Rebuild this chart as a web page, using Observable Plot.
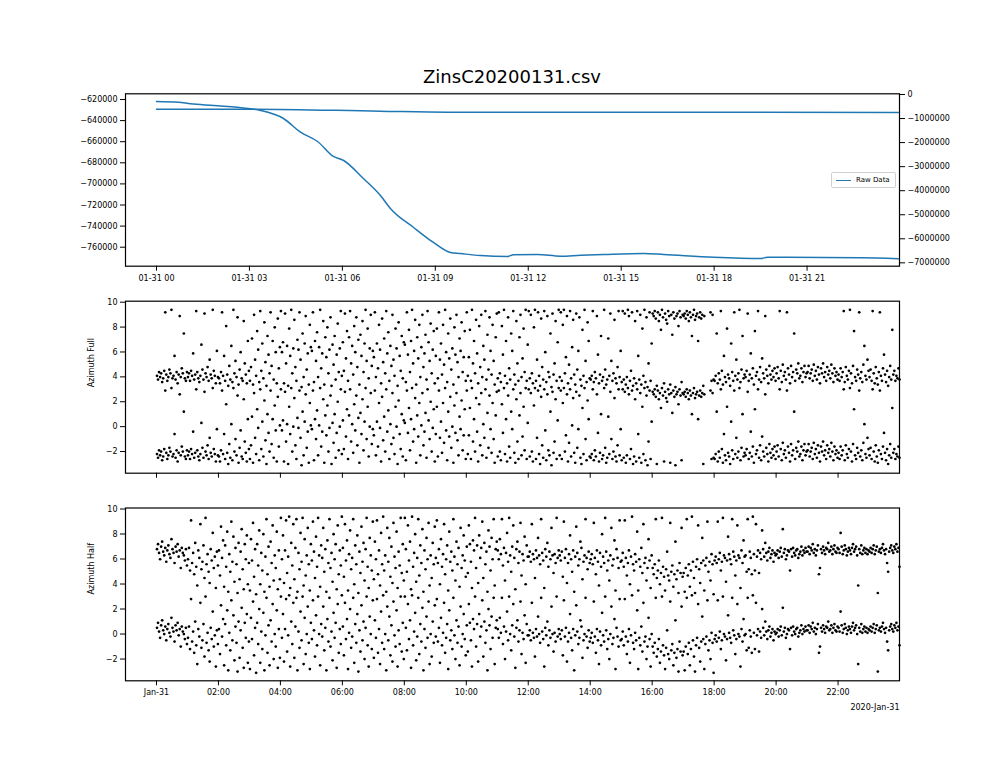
<!DOCTYPE html>
<html><head><meta charset="utf-8">
<script src="https://cdn.jsdelivr.net/npm/d3@7"></script>
<script src="https://cdn.jsdelivr.net/npm/@observablehq/plot@0.6"></script>
<style>
body{margin:0;background:#fff;}
#c{position:relative;width:1000px;height:778px;font-family:"DejaVu Sans",sans-serif;overflow:hidden;}
#c svg{position:absolute;left:0;top:0;}
#title{position:absolute;left:0;width:1024px;top:66px;text-align:center;font-size:18px;color:#000;}
#legend{position:absolute;left:831px;top:172px;width:63px;height:14px;border:1px solid #d0d0d0;border-radius:2px;background:rgba(255,255,255,0.8);font-size:7px;}
#legend .ln{position:absolute;left:4px;top:6.5px;width:15px;height:0;border-top:1.4px solid #1f77b4;}
#legend .tx{position:absolute;left:24px;top:2.5px;color:#000;}
</style></head>
<body><div id="c"><div id="title">ZinsC20200131.csv</div></div>
<script>
// ---- Top panel: raw data lines (times in hours after 2020-01-31 00:00) ----
const rawTimesA = [0,0.71,1.10,1.85,3.03,3.36,4.10,4.65,5.20,5.71,6.04,6.68,7.23,7.55,8.30,8.94,9.49,9.81,10.46,11.33,11.52,12.30,13.04,13.69,14.43,15.72,16.37,17.98,19.50,19.72,22.72,23.95];
const rawValuesA = [-621900,-622560,-624080,-625700,-628800,-630400,-638000,-651000,-659800,-674000,-677800,-694900,-711000,-723300,-741300,-755500,-765000,-766000,-767900,-768800,-767200,-766900,-768500,-767600,-766900,-766000,-766900,-769500,-770700,-769500,-770100,-771000];
const rawTimesB = [0,3.0,7.2,9.4,13.0,23.95];
const rawValuesB = [-611000,-611000,-694000,-736000,-736000,-748000];
const leftTicks = [-620000,-640000,-660000,-680000,-700000,-720000,-740000,-760000];
const rightTicks = [0,-1000000,-2000000,-3000000,-4000000,-5000000,-6000000,-7000000];
const topTickHours = [0,3,6,9,12,15,18,21];
const azTickHours = [0,2,4,6,8,10,12,14,16,18,20,22];
const azTicksY = [-2,0,2,4,6,8,10];

// ---- Azimuth Full: angle samples per hour (radians, 30 per hour; null = no sample) ----
const fullH00=[-2.2,-2.5,-1.9,-2.3,-2.0,-2.7,-2.4,-1.8,2.9,-2.1,-2.6,-2.3,-1.7,-2.0,3.1,-2.4,-2.2,-0.6,-2.5,-1.9,-2.8,-2.1,2.6,-2.3,-1.6,-2.0,1.2,-2.4,-2.6,-1.9];
const fullH01=[-2.3,-2.0,-2.6,-1.8,-2.2,-0.4,-2.5,-2.1,3.0,-1.9,-2.4,-2.7,-2.2,0.3,-1.7,-2.5,2.8,-2.0,-2.3,-1.5,-2.6,-0.9,-2.1,-2.4,3.1,-1.8,-2.2,-2.8,-0.2,-2.3];
const fullH02=[-2.4,-2.8,-1.9,2.9,-2.2,-0.6,-2.6,1.8,-2.1,-3.0,-1.4,-2.5,0.2,-2.7,3.1,-2.0,-1.0,-2.3,2.5,-2.9,-1.7,-0.3,-2.4,-2.6,2.2,-1.2,-2.1,-2.8,0.6,-1.8];
const fullH03=[-2.6,-1.5,0.8,-2.9,2.7,-0.9,-2.2,1.4,-0.1,-2.7,3.0,-1.8,0.4,-2.4,2.1,-1.1,-3.0,1.0,-0.5,-2.0,2.9,-1.4,0.6,-2.5,1.7,-0.3,-2.8,2.4,-1.6,0.1];
const fullH04=[3.0,-0.3,0.5,-2.8,2.8,-1.2,0.2,-3.0,1.6,-0.6,3.1,-2.0,0.0,2.3,-1.5,-2.6,0.7,-0.1,2.9,-0.9,-3.1,1.2,-2.3,0.4,2.6,-1.7,-0.4,-2.9,1.9,0.1];
const fullH05=[-0.2,2.9,-2.7,0.6,-1.0,1.3,-2.3,0.1,3.1,-1.6,-0.4,2.2,-2.9,0.9,-0.7,1.7,-2.0,-0.1,2.5,-3.0,0.3,-1.3,1.0,-2.5,-0.5,2.0,-1.9,0.0,3.0,-2.2];
const fullH06=[0.5,-1.8,2.8,-0.8,1.4,-2.6,0.9,3.0,-1.2,0.2,-2.1,1.8,-0.3,2.5,-1.5,0.7,-2.9,1.1,-0.6,2.2,-1.9,0.4,3.1,-1.0,1.6,-2.4,0.0,2.7,-1.4,-0.2];
const fullH07=[-0.7,2.9,-2.3,0.4,-1.6,1.9,-0.1,-2.8,2.4,-1.1,0.8,-2.0,3.0,-0.4,1.3,-2.6,0.2,-1.4,2.7,-0.9,-2.2,1.6,0.0,-3.0,2.1,-0.6,-1.8,1.0,-2.4,0.5];
const fullH08=[0.3,-2.7,2.9,-0.5,1.5,-1.9,0.6,3.1,-1.2,-0.2,2.3,-2.9,0.9,-0.8,1.9,-2.3,0.1,2.7,-1.5,-0.4,1.1,-2.5,3.0,0.5,-1.0,2.0,-2.0,-0.1,1.4,-2.8];
const fullH09=[-0.6,1.6,-2.4,2.9,-0.9,0.4,-2.1,1.9,-1.3,3.1,-0.3,-2.7,1.2,-0.8,2.4,-1.7,0.0,-2.9,1.7,-0.5,2.7,-1.1,-2.3,0.8,-0.2,2.1,-1.9,-0.7,1.4,-2.6];
const fullH10=[2.9,-2.2,-0.7,1.5,-2.6,3.1,-1.2,0.6,-2.0,2.3,-0.4,-2.8,1.8,-1.5,2.7,-2.3,0.2,-0.9,3.0,-2.5,1.1,-1.7,2.5,-0.2,-2.1,1.9,-1.0,-2.9,0.9,2.8];
const fullH11=[-2.4,2.9,-2.0,-2.7,1.8,-0.5,3.1,-2.2,0.6,-2.8,2.5,-1.6,-2.5,1.2,-0.2,3.0,-2.1,-2.9,2.2,-1.2,-2.6,0.9,2.7,-2.3,-0.8,1.6,-1.9,3.1,-2.6,0.3];
const fullH12=[3.0,-2.4,2.7,-2.0,-2.8,1.7,3.1,-2.6,-0.9,2.9,-2.2,-3.0,2.4,-1.5,-2.5,3.0,-0.3,-2.7,2.6,-1.9,-2.3,1.2,-3.1,2.8,-2.1,-1.2,2.2,-2.6,0.5,3.1];
const fullH13=[-2.3,2.9,-2.6,1.9,3.1,-2.0,-0.7,2.6,-2.8,-1.3,3.0,-2.4,0.1,2.3,-2.1,-2.9,2.8,-1.7,-0.2,2.5,-2.5,-3.0,1.5,-2.2,3.1,-1.0,-2.7,2.1,0.6,-2.4];
const fullH14=[-2.5,-2.2,3.0,-2.7,-1.9,-2.4,2.6,-0.5,-2.8,-2.1,1.0,-2.6,-2.3,3.1,-1.7,-2.9,-2.5,0.8,-2.2,2.8,-1.0,-2.6,-2.0,2.3,-2.4,-2.8,-1.5,3.0,-2.3,-0.2];
const fullH15=[-2.7,3.0,-2.5,2.8,-2.9,-2.3,3.1,2.6,-2.6,-1.8,2.9,-3.0,-2.4,2.2,-2.8,3.0,-0.6,-2.5,2.7,-2.9,1.6,-2.2,3.1,-2.7,2.5,-3.1,-1.2,2.9,-2.6,0.4];
const fullH16=[2.8,2.6,3.0,2.4,-3.0,2.9,2.2,2.7,1.5,3.1,2.5,-2.8,2.8,2.3,2.0,3.0,2.6,-2.9,2.7,1.1,2.9,2.4,-3.1,2.6,2.8,1.8,3.0,2.5,-2.7,2.7];
const fullH17=[2.6,2.8,2.4,3.0,2.7,2.2,2.9,2.5,1.0,2.7,3.1,2.3,2.6,2.8,0.6,2.5,2.9,2.4,2.7,-3.0,2.6,null,null,null,null,null,2.9,-2.6,2.7,-2.5];
const fullH18=[-2.6,-2.2,1.2,-2.8,-2.0,-2.5,3.0,-1.8,-2.9,-0.6,-2.3,-2.7,1.6,-2.1,-2.4,-3.0,0.4,-1.9,-2.6,2.9,-2.2,-0.9,-2.5,-2.0,3.1,-2.7,-1.7,1.0,-2.4,-2.1];
const fullH19=[-2.3,-1.8,2.8,-2.6,-2.1,-0.4,-2.4,-1.6,-2.9,1.4,-2.2,-1.9,3.0,-2.5,-1.5,-2.7,-0.8,-2.0,-2.4,2.6,-1.7,-2.2,-2.8,-1.4,-2.1,-2.5,-1.8,-2.3,-1.6,-2.6];
const fullH20=[-2.0,-1.5,-2.4,3.0,-1.8,-2.7,-1.3,-2.2,-1.9,-2.5,2.9,-1.6,-2.1,-2.8,-1.4,-2.3,-1.9,1.2,-2.6,-1.7,-2.0,-1.2,-2.4,-2.2,-1.6,-2.7,-1.9,-1.4,-2.3,-2.0];
const fullH21=[-1.9,-1.4,-2.4,-2.0,-1.7,-2.6,-1.3,-2.2,-1.8,-2.5,-1.5,-2.1,-2.8,-1.6,-2.0,-1.2,-2.3,-1.9,-2.6,-1.5,-2.1,-1.8,-2.4,-1.3,-2.0,-2.7,-1.6,-2.2,-1.9,-2.5];
const fullH22=[-2.1,-2.6,-1.6,-2.3,-1.9,3.0,-2.7,-1.5,-2.2,-2.5,-1.8,3.1,-2.0,-2.8,-1.4,1.4,-2.3,-2.6,-1.7,-2.1,2.9,-2.4,-1.9,-2.7,-1.3,0.2,-2.2,-2.5,-0.9,-1.8];
const fullH23=[-2.3,-1.7,-2.6,3.0,-2.0,-2.8,-1.5,-2.4,-2.9,-1.9,2.9,-2.2,-2.6,-1.6,-0.5,-2.1,-2.7,-1.8,-3.0,-2.3,-1.4,-2.5,1.5,-2.1,-1.8,-2.6,-2.2,-2.4,-1.6,-2.5];

// ---- Azimuth Half: angle samples per hour (radians, 30 per hour) ----
const halfH00=[0.5,0.9,0.2,-0.3,0.7,1.1,0.3,0.0,0.6,-0.5,0.4,0.8,0.1,-0.2,1.3,0.5,0.2,-0.6,0.7,0.3,0.9,-0.1,0.4,-1.0,0.6,0.2,0.0,-0.4,0.5,-0.8];
const halfH01=[-0.3,0.6,-1.2,2.8,-0.6,0.2,-1.5,1.0,-0.9,-2.4,0.4,-0.2,2.5,-1.1,-0.5,0.8,-1.8,3.0,-0.7,0.1,-1.3,-2.2,0.5,-0.4,1.8,-1.0,-0.1,-2.6,0.3,-0.8];
const halfH02=[0.4,-1.6,2.3,-0.2,1.2,-2.5,0.8,-0.9,1.9,-2.9,0.1,-1.3,2.7,-0.5,1.5,-2.1,0.6,-0.7,-3.0,1.0,-1.9,0.3,2.1,-1.1,-2.7,0.9,-0.3,1.6,-2.3,-0.6];
const halfH03=[-2.8,1.3,-0.4,2.6,-1.7,0.5,-3.1,0.9,-0.8,2.0,-2.3,0.2,-1.2,1.7,-2.9,-0.1,2.9,-1.5,0.7,-2.5,1.1,-0.6,2.4,-2.0,0.0,-1.0,1.9,-2.7,0.4,-1.9];
const halfH04=[3.0,-0.3,1.6,-2.2,0.4,2.8,-1.4,-0.1,3.1,-2.6,1.0,-0.8,2.5,-1.9,0.6,2.9,-2.9,0.2,-1.1,1.8,-0.5,3.0,-2.4,1.3,-1.6,0.0,2.2,-0.7,-2.8,0.9];
const halfH05=[-0.4,2.7,0.3,-1.8,1.5,-0.9,3.0,0.0,-2.5,0.8,-0.2,2.2,-1.3,0.5,-2.9,1.2,-0.6,2.9,-1.0,0.2,-2.1,1.7,-0.3,0.9,-2.7,2.4,-1.5,0.4,-0.8,3.1];
const halfH06=[0.6,-1.7,2.5,-0.4,1.2,-2.8,0.1,2.0,-1.1,-0.2,2.9,-2.3,0.8,-0.7,1.6,-3.0,0.3,-1.4,2.3,-0.5,1.0,-2.0,0.5,3.0,-0.9,-2.6,1.4,0.0,-1.2,2.7];
const halfH07=[-1.9,1.1,-0.3,2.8,-1.5,0.4,-2.4,1.8,-0.7,3.1,-1.2,0.0,-2.9,2.2,-0.5,1.4,-1.7,0.7,-2.2,2.6,-0.1,-1.0,1.9,-2.6,0.3,-0.8,3.0,-1.4,0.9,-2.0];
const halfH08=[3.0,0.5,-1.3,2.4,-0.4,1.1,-2.7,3.1,-0.9,0.2,1.7,-2.1,-0.2,2.9,-1.6,0.8,-0.6,2.1,-2.9,0.4,-1.1,1.4,-0.3,2.6,-2.4,0.0,-1.8,1.0,-0.7,2.3];
const halfH09=[-0.2,2.8,-0.6,0.5,-2.3,1.3,-0.9,0.1,2.5,-1.5,-0.3,0.8,-2.8,1.9,-0.5,0.3,-1.2,2.9,-0.1,-2.0,1.1,-0.7,0.6,-2.5,2.2,-1.0,0.0,1.6,-0.4,-1.7];
const halfH10=[0.7,-1.4,2.4,0.9,-0.5,-2.6,1.2,0.4,3.0,-1.0,0.8,-2.2,1.6,-0.2,0.6,2.7,-1.8,1.0,-0.7,0.3,-2.9,2.0,0.7,-1.2,1.4,-0.3,2.9,-2.4,0.5,1.1];
const halfH11=[0.4,-0.3,1.3,0.1,2.9,-0.8,0.6,-2.0,0.2,1.8,-0.5,3.0,0.0,-1.3,0.7,2.4,-0.2,-2.7,0.5,1.1,-0.6,0.3,2.6,-1.6,0.1,-0.4,1.5,-2.3,0.8,-0.1];
const halfH12=[-0.1,0.3,-0.5,2.5,0.1,-0.3,-1.8,0.4,-0.2,1.4,0.0,-0.7,2.9,0.2,-0.4,-2.6,0.5,-0.1,1.0,-0.9,0.3,-0.3,2.2,0.0,-1.4,0.1,-0.6,3.0,-0.2,0.4];
const halfH13=[0.0,-0.4,0.3,-1.7,2.7,-0.2,0.5,-2.2,-0.6,0.1,1.6,-0.3,-1.3,0.4,-2.9,-0.1,2.3,0.2,-0.8,-0.3,1.1,0.6,-1.9,-0.5,0.0,2.9,-0.2,-1.1,0.3,-0.6];
const halfH14=[-0.3,0.1,-0.7,2.6,-0.2,-1.5,0.4,-0.5,-2.4,0.2,-0.9,1.7,-0.1,-0.6,3.0,0.3,-1.2,-0.4,-2.0,0.0,2.2,-0.8,-0.3,1.2,-2.8,0.5,-0.2,-1.0,2.8,-0.5];
const halfH15=[-0.4,0.2,-0.9,2.8,-0.2,-1.6,-0.6,0.4,-2.3,-0.1,3.1,-0.7,-1.2,0.1,-0.5,1.9,-2.8,-0.3,-0.9,0.6,-1.4,2.5,-0.6,-0.2,-2.0,-1.0,1.3,-0.4,-2.6,0.0];
const halfH16=[-1.0,-1.5,-0.7,2.9,-1.8,-1.2,-0.4,-2.3,-1.4,3.0,-0.9,-1.7,-2.8,-1.1,0.3,-1.6,-2.0,2.6,-1.3,-0.8,-2.5,-1.5,1.1,-1.9,-1.2,-3.0,-0.6,-1.4,2.2,-1.7];
const halfH17=[-1.4,-2.9,-1.0,2.9,-1.6,-0.7,-2.5,-1.2,3.1,-0.5,-1.8,-3.0,-0.9,-0.3,2.4,-1.1,-2.2,-0.6,1.4,-0.4,-2.8,-0.8,-0.2,2.7,-1.3,-0.5,-2.0,0.1,-0.7,-3.1];
const halfH18=[-0.4,-0.1,-0.6,2.7,-0.3,0.2,-1.2,-0.5,3.0,0.0,-0.2,-2.1,-0.4,1.5,0.1,-0.3,-0.7,2.9,0.3,-0.1,-1.6,-0.4,2.4,0.0,-0.2,-2.6,0.4,-0.6,1.2,-0.1];
const halfH19=[0.0,-1.3,2.9,-1.1,0.3,-0.2,-1.5,3.1,0.1,-1.2,2.5,-0.1,0.4,-1.4,0.2,-0.3,2.0,0.5,-0.1,1.0,0.2,-0.4,0.3,0.6,-0.2,0.1,0.4,-0.5,0.2,0.0];
const halfH20=[0.1,0.4,-0.2,0.3,0.6,-0.1,2.1,0.2,0.5,-0.3,0.0,0.4,0.3,-1.2,0.5,-0.1,0.6,0.2,0.0,0.4,0.5,-0.2,0.1,0.3,0.7,0.0,0.4,0.2,0.6,0.3];
const halfH21=[0.3,0.7,0.1,0.6,0.4,0.9,0.2,0.5,0.0,0.4,0.8,-1.5,-1.0,0.5,0.2,0.7,0.4,0.1,0.6,0.5,1.0,0.3,0.4,0.7,0.1,0.5,0.8,0.3,0.2,0.6];
const halfH22=[0.5,0.2,1.8,0.7,0.1,0.4,0.8,0.5,0.0,0.3,0.6,0.4,0.1,0.6,0.9,0.3,0.5,0.7,0.0,-2.4,0.5,0.2,0.8,0.1,0.4,0.6,0.2,0.5,0.1,0.4];
const halfH23=[0.3,0.6,0.2,0.5,0.8,0.1,0.4,0.7,-3.0,0.3,0.5,0.2,0.6,0.9,0.4,0.1,0.5,-0.6,-1.3,0.3,0.6,0.8,0.4,0.2,0.7,0.5,0.9,0.3,0.6,-0.9];

const fullHours=[fullH00,fullH01,fullH02,fullH03,fullH04,fullH05,fullH06,fullH07,fullH08,fullH09,fullH10,fullH11,fullH12,fullH13,fullH14,fullH15,fullH16,fullH17,fullH18,fullH19,fullH20,fullH21,fullH22,fullH23];
const halfHours=[halfH00,halfH01,halfH02,halfH03,halfH04,halfH05,halfH06,halfH07,halfH08,halfH09,halfH10,halfH11,halfH12,halfH13,halfH14,halfH15,halfH16,halfH17,halfH18,halfH19,halfH20,halfH21,halfH22,halfH23];

// ---- build tables ----
const T0 = Date.UTC(2020,0,31,0,0);
const hr = h => new Date(T0 + h*3600000);
const lineA = rawTimesA.map((h,i)=>({t:hr(h), v:rawValuesA[i]}));
const lineB = rawTimesB.map((h,i)=>({t:hr(h), v:rawValuesB[i]}));
function scatter(hours){
  const out=[];
  hours.forEach((arr,h)=>arr.forEach((v,i)=>{
    if(v==null) return;
    const t=hr(h+(i+0.5)/arr.length);
    out.push({t,v}); out.push({t,v:v+2*Math.PI});
  }));
  return out;
}
const fullData=scatter(fullHours), halfData=scatter(halfHours);

const W=1000,H=778, L=125, R=101;
const xDomain=[new Date(Date.UTC(2020,0,30,23,0)), new Date(Date.UTC(2020,0,31,23,59))];
const fmtInt=d3.format("d");
const base={width:W,height:H,marginLeft:L,marginRight:R,style:{background:"transparent",fontSize:"8px",fontFamily:"DejaVu Sans",color:"#000",overflow:"visible"}};
const azY={domain:[-3.74,10.08],label:null};
const c=document.getElementById("c");

// top panel, left axis
c.appendChild(Plot.plot({...base, marginTop:93.3, marginBottom:H-265.7,
  x:{type:"utc",domain:xDomain,label:null}, y:{domain:[-778000,-614600],label:null},
  marks:[
    Plot.line(lineA,{x:"t",y:"v",stroke:"#1f77b4",strokeWidth:1.5,curve:"monotone-x"}),
    Plot.axisX({ticks:topTickHours.map(hr),tickFormat:d3.utcFormat("%m-%d %H"),tickSize:5,tickPadding:4,label:null}),
    Plot.axisY({ticks:leftTicks,tickFormat:fmtInt,tickSize:5,tickPadding:3,label:null}),
    Plot.frame({stroke:"#000",strokeWidth:1.2})
  ]}));
// top panel, right axis
c.appendChild(Plot.plot({...base, marginTop:93.3, marginBottom:H-265.7,
  x:{type:"utc",domain:xDomain,label:null,axis:null}, y:{domain:[-7140000,29000],label:null},
  marks:[
    Plot.line(lineB,{x:"t",y:"v",stroke:"#1f77b4",strokeWidth:1.5,curve:"monotone-x"}),
    Plot.axisY({anchor:"right",ticks:rightTicks,tickFormat:fmtInt,tickSize:5,tickPadding:3,label:null})
  ]}));
// middle panel
c.appendChild(Plot.plot({...base, marginTop:300.7, marginBottom:H-472.7,
  x:{type:"utc",domain:xDomain,label:null}, y:azY,
  marks:[
    Plot.dot(fullData,{x:"t",y:"v",r:1.35,fill:"#000",stroke:null}),
    Plot.axisX({ticks:azTickHours.map(hr),tickFormat:()=>"",tickSize:5,label:null}),
    Plot.axisY({ticks:azTicksY,tickSize:5,tickPadding:3,tickFormat:fmtInt,label:null}),
    Plot.text(["Azimuth Full"],{frameAnchor:"left",text:d=>d,rotate:-90,dx:-34,fontSize:8}),
    Plot.frame({stroke:"#000",strokeWidth:1.2})
  ]}));
// bottom panel
c.appendChild(Plot.plot({...base, marginTop:507.5, marginBottom:H-680.3,
  x:{type:"utc",domain:xDomain,label:null}, y:azY,
  marks:[
    Plot.dot(halfData,{x:"t",y:"v",r:1.35,fill:"#000",stroke:null}),
    Plot.axisX({ticks:azTickHours.map(hr),tickFormat:d=>d.getUTCHours()===0?"Jan-31":d3.utcFormat("%H:%M")(d),tickSize:5,tickPadding:4,label:null}),
    Plot.axisY({ticks:azTicksY,tickSize:5,tickPadding:3,tickFormat:fmtInt,label:null}),
    Plot.text(["Azimuth Half"],{frameAnchor:"left",text:d=>d,rotate:-90,dx:-34,fontSize:8}),
    Plot.text(["2020-Jan-31"],{frameAnchor:"bottom-right",text:d=>d,dy:29,textAnchor:"end",fontSize:8}),
    Plot.frame({stroke:"#000",strokeWidth:1.2})
  ]}));

const lg=document.createElement("div"); lg.id="legend";
lg.innerHTML='<div class="ln"></div><div class="tx">Raw Data</div>';
c.appendChild(lg);
</script></body></html>
